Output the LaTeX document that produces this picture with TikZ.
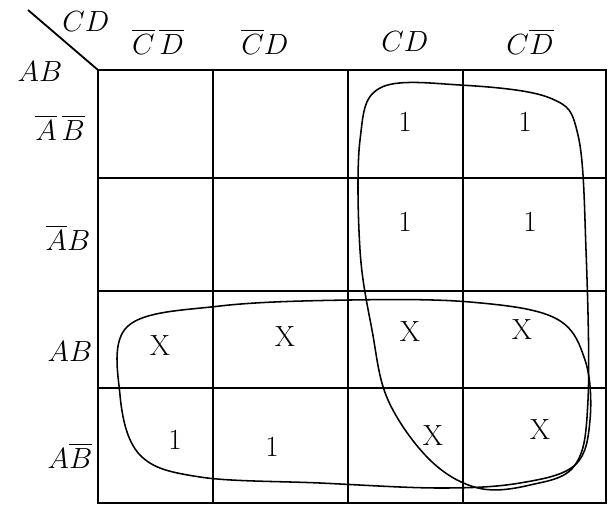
\documentclass[tikz,border=0pt]{standalone}
\usepackage{amsmath}
\usetikzlibrary{positioning}

\begin{document}
\begin{tikzpicture}[x=0.025cm, y=-0.025cm, line width=1.3pt,
    every node/.style={font=\huge},
    cellval/.style={inner sep=0pt, minimum size=1pt},
    grp/.style={line width=1.1pt}]
  \useasboundingbox (0,0) rectangle (612,509);
  % Grid
  \draw (98,70) rectangle (606,503);
  \foreach \gx in {213,348,463}
    \draw (\gx,70) -- (\gx,503);
  \foreach \gy in {178,291,388}
    \draw (98,\gy) -- (606,\gy);
  % Corner
  \draw (28,10) -- (98,70);
  \node[inner sep=0pt] (cdcorner) at (86,22) {$CD$};
  \node[inner sep=0pt] (abcorner) at (40,72) {$AB$};
  % Column headers
  \node (c00) at (158,42) {$\overline{C}\,\overline{D}$};
  \node (c01) at (265,42) {$\overline{C}D$};
  \node (c11) at (405,42) {$CD$};
  \node (c10) at (530,42) {$C\overline{D}$};
  % Row headers
  \node (r00) at (60,128) {$\overline{A}\,\overline{B}$};
  \node (r01) at (68,238) {$\overline{A}B$};
  \node (r11) at (70,352) {$AB$};
  \node (r10) at (70,456) {$A\overline{B}$};
  % Cell values
  \node[cellval] (m0c) at (405,122) {1};
  \node[cellval] (m0d) at (525,122) {1};
  \node[cellval] (m1c) at (405,222) {1};
  \node[cellval] (m1d) at (530,222) {1};
  \node[cellval] (m2a) at (160,346) {X};
  \node[cellval] (m2b) at (285,337) {X};
  \node[cellval] (m2c) at (410,332) {X};
  \node[cellval] (m2d) at (522,330) {X};
  \node[cellval] (m3a) at (175,440) {1};
  \node[cellval] (m3b) at (272,447) {1};
  \node[cellval] (m3c) at (433,436) {X};
  \node[cellval] (m3d) at (540,430) {X};
  % Groups
  \draw[grp] plot[smooth cycle, tension=0.6] coordinates {
    (380,88) (460,85) (550,98) (578,135) (586,250) (588,400)
    (575,465) (530,485) (478,488) (430,460) (388,400) (372,330)
    (360,250) (360,140)};
  \draw[grp] plot[smooth cycle, tension=0.6] coordinates {
    (128,326) (220,306) (350,300) (470,302) (555,318) (585,360)
    (590,420) (575,465) (520,483) (440,488) (320,483) (200,477)
    (140,455) (120,395)};
\end{tikzpicture}
\end{document}
